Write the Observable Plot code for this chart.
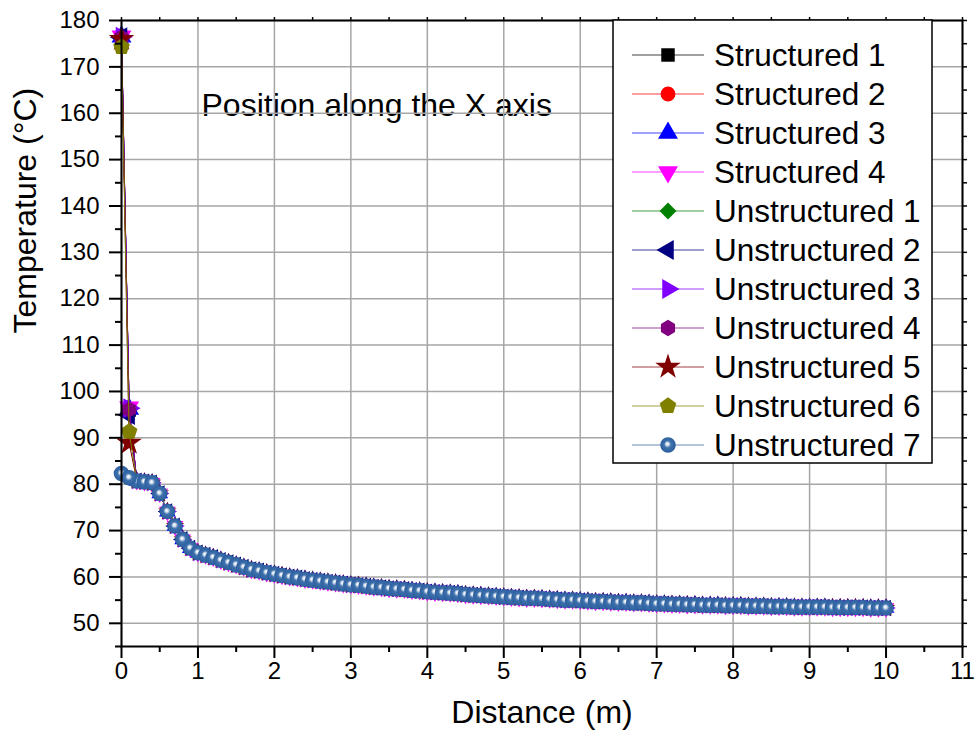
<!DOCTYPE html>
<html>
<head>
<meta charset="utf-8">
<script src="https://cdn.jsdelivr.net/npm/d3@7"></script>
<script src="https://cdn.jsdelivr.net/npm/@observablehq/plot@0.6"></script>
<style>
  html, body { margin: 0; padding: 0; background: #fff; }
  #chart { position: relative; width: 979px; height: 747px; }
</style>
</head>
<body>
<div id="chart"></div>
<script>
// ---------------- data ----------------
const seriesNames = [
  "Structured 1", "Structured 2", "Structured 3", "Structured 4",
  "Unstructured 1", "Unstructured 2", "Unstructured 3", "Unstructured 4",
  "Unstructured 5", "Unstructured 6", "Unstructured 7"
];
const seriesColors = [
  "#000000", "#ff0000", "#0000ff", "#ff00ff",
  "#008000", "#000080", "#8000ff", "#800080",
  "#800000", "#808000", "#3a6aa8"
];
const distance = [
  0.0, 0.1, 0.2, 0.3, 0.4, 0.5, 0.6, 0.7, 0.8, 0.9,
  1.0, 1.1, 1.2, 1.3, 1.4, 1.5, 1.6, 1.7, 1.8, 1.9,
  2.0, 2.1, 2.2, 2.3, 2.4, 2.5, 2.6, 2.7, 2.8, 2.9,
  3.0, 3.1, 3.2, 3.3, 3.4, 3.5, 3.6, 3.7, 3.8, 3.9,
  4.0, 4.1, 4.2, 4.3, 4.4, 4.5, 4.6, 4.7, 4.8, 4.9,
  5.0, 5.1, 5.2, 5.3, 5.4, 5.5, 5.6, 5.7, 5.8, 5.9,
  6.0, 6.1, 6.2, 6.3, 6.4, 6.5, 6.6, 6.7, 6.8, 6.9,
  7.0, 7.1, 7.2, 7.3, 7.4, 7.5, 7.6, 7.7, 7.8, 7.9,
  8.0, 8.1, 8.2, 8.3, 8.4, 8.5, 8.6, 8.7, 8.8, 8.9,
  9.0, 9.1, 9.2, 9.3, 9.4, 9.5, 9.6, 9.7, 9.8, 9.9,
  10.0
];
// temperature at the inlet (x = 0) and at x = 0.1 m for each series
const inletTemp = [176.3, 176.3, 176.5, 176.6, 176.2, 176.4, 176.5, 176.3, 176.0, 174.3, 82.3];
const secondTemp = [96.0, 96.0, 96.2, 96.6, 96.0, 94.9, 96.4, 96.1, 88.9, 91.3, 81.4];
// common temperature profile from x = 0.2 m to x = 10 m (all meshes overlap)
const profileTemp = [
  80.7, 80.5, 80.3, 78.0, 74.1, 71.0, 68.1, 66.2,
  65.2, 64.7, 64.2, 63.6, 63.1, 62.6, 62.1, 61.6, 61.3, 60.9,
  60.6, 60.3, 60.0, 59.8, 59.5, 59.3, 59.1, 58.9, 58.7, 58.5,
  58.3, 58.2, 58.0, 57.8, 57.7, 57.5, 57.4, 57.3, 57.1, 57.0,
  56.8, 56.7, 56.6, 56.5, 56.4, 56.2, 56.1, 56.0, 55.9, 55.8,
  55.7, 55.6, 55.5, 55.4, 55.4, 55.3, 55.2, 55.1, 55.0, 55.0,
  54.9, 54.8, 54.7, 54.7, 54.6, 54.5, 54.5, 54.4, 54.4, 54.3,
  54.2, 54.2, 54.1, 54.1, 54.0, 54.0, 53.9, 53.9, 53.9, 53.8,
  53.8, 53.8, 53.7, 53.7, 53.7, 53.6, 53.6, 53.6, 53.5, 53.5,
  53.5, 53.5, 53.5, 53.4, 53.4, 53.4, 53.4, 53.4, 53.3, 53.3,
  53.3
];
const xMajorTicks = [0, 1, 2, 3, 4, 5, 6, 7, 8, 9, 10, 11];
const xMinorTicks = [0.5, 1.5, 2.5, 3.5, 4.5, 5.5, 6.5, 7.5, 8.5, 9.5, 10.5];
const yMajorTicks = [50, 60, 70, 80, 90, 100, 110, 120, 130, 140, 150, 160, 170, 180];
const yMinorTicks = [45, 55, 65, 75, 85, 95, 105, 115, 125, 135, 145, 155, 165, 175];
const annotationText = "Position along the X axis";
const xTitle = "Distance (m)";
const yTitle = "Temperature (°C)";

// ---------------- symbols ----------------
const S3 = Math.sqrt(3);
const triDown = {draw(c, size) { const y = -Math.sqrt(size / (S3 * 3)); c.moveTo(0, -2 * y); c.lineTo(-S3 * y, y); c.lineTo(S3 * y, y); c.closePath(); }};
const triLeft = {draw(c, size) { const y = -Math.sqrt(size / (S3 * 3)); c.moveTo(2 * y, 0); c.lineTo(-y, -S3 * y); c.lineTo(-y, S3 * y); c.closePath(); }};
const triRight = {draw(c, size) { const y = -Math.sqrt(size / (S3 * 3)); c.moveTo(-2 * y, 0); c.lineTo(y, S3 * y); c.lineTo(y, -S3 * y); c.closePath(); }};
function polygon(n) {
  return {draw(c, size) {
    const r = Math.sqrt(size / (n / 2 * Math.sin(2 * Math.PI / n)));
    for (let k = 0; k < n; ++k) {
      const a = -Math.PI / 2 + k * 2 * Math.PI / n;
      const px = r * Math.cos(a), py = r * Math.sin(a);
      if (k === 0) c.moveTo(px, py); else c.lineTo(px, py);
    }
    c.closePath();
  }};
}
const seriesSymbols = [
  d3.symbolSquare, d3.symbolCircle, d3.symbolTriangle, triDown,
  d3.symbolDiamond2, triLeft, triRight, polygon(6),
  d3.symbolStar, polygon(5), d3.symbolCircle
];
// marker radius in the legend / head points, and on the curve (where they sit under the spheres)
const legendR = [7.6, 7.4, 7.4, 7.4, 7.6, 7.4, 7.4, 7.4, 8, 7.6, 7.8];
const curveR = [6.2, 6.4, 6.2, 6.2, 6.6, 6.2, 6.2, 6.8, 5.8, 6.6, 7.8];

// ---------------- table ----------------
function seriesRows(i) {
  const temps = [inletTemp[i], secondTemp[i], ...profileTemp];
  return distance.map((x, j) => ({series: seriesNames[i], x, t: temps[j], head: j < 2}));
}

const fontFamily = "Arial, 'Liberation Sans', sans-serif";
const marks = [];
marks.push(Plot.text([annotationText], {frameAnchor: "top-left", dx: 80, dy: 73, textAnchor: "start", fontSize: 32, fill: "black"}));
marks.push(Plot.gridX(xMajorTicks, {stroke: "#a6a6a6", strokeOpacity: 1, strokeWidth: 1.5}));
marks.push(Plot.gridY(yMajorTicks, {stroke: "#a6a6a6", strokeOpacity: 1, strokeWidth: 1.5}));
seriesNames.forEach((name, i) => {
  const rows = seriesRows(i);
  const fill = i === 10 ? "url(#ball)" : seriesColors[i];
  marks.push(Plot.line(rows, {x: "x", y: "t", stroke: seriesColors[i], strokeWidth: 1}));
  marks.push(Plot.dot(rows.filter(d => !d.head), {x: "x", y: "t", symbol: seriesSymbols[i], r: curveR[i], fill, stroke: "none"}));
  marks.push(Plot.dot(rows.filter(d => d.head), {x: "x", y: "t", symbol: seriesSymbols[i], r: i === 10 ? curveR[i] : legendR[i], fill, stroke: "none"}));
});
marks.push(Plot.frame({stroke: "black", strokeWidth: 2}));
marks.push(Plot.axisX(xMajorTicks, {anchor: "bottom", tickSize: 12, tickPadding: 3, strokeWidth: 2, fontSize: 24, label: null, tickFormat: d => String(d)}));
marks.push(Plot.axisX(xMinorTicks, {anchor: "bottom", tickSize: 6, strokeWidth: 2, label: null, tickFormat: () => ""}));
marks.push(Plot.axisX([...xMajorTicks, ...xMinorTicks], {anchor: "top", tickSize: 4, strokeWidth: 1.5, label: null, tickFormat: () => ""}));
marks.push(Plot.axisY(yMajorTicks, {anchor: "left", tickSize: 12, tickPadding: 10, strokeWidth: 2, fontSize: 24, label: null, tickFormat: d => String(d)}));
marks.push(Plot.axisY(yMinorTicks, {anchor: "left", tickSize: 6, strokeWidth: 2, label: null, tickFormat: () => ""}));
marks.push(Plot.axisY([...yMajorTicks, ...yMinorTicks], {anchor: "right", tickSize: 4, strokeWidth: 1.5, label: null, tickFormat: () => ""}));
marks.push(Plot.text([xTitle], {frameAnchor: "bottom", dy: 76, fontSize: 32, fill: "black"}));
marks.push(Plot.text([yTitle], {frameAnchor: "left", dx: -96, rotate: -90, fontSize: 32, fill: "black"}));

const svg = Plot.plot({
  width: 979,
  height: 747,
  marginLeft: 121,
  marginRight: 17,
  marginTop: 20,
  marginBottom: 101,
  x: {domain: [0, 11]},
  y: {domain: [45, 180]},
  style: {fontFamily, color: "black", background: "white", overflow: "visible"},
  marks
});
document.getElementById("chart").appendChild(svg);

// gradient for the shaded spheres of "Unstructured 7"
const root = d3.select(svg);
const defs = root.insert("defs", ":first-child");
const grad = defs.append("radialGradient").attr("id", "ball")
  .attr("cx", "50%").attr("cy", "50%").attr("r", "50%").attr("fx", "45%").attr("fy", "42%");
grad.append("stop").attr("offset", "0%").attr("stop-color", "#ffffff");
grad.append("stop").attr("offset", "18%").attr("stop-color", "#dbe5f1");
grad.append("stop").attr("offset", "45%").attr("stop-color", "#3f71ad");
grad.append("stop").attr("offset", "100%").attr("stop-color", "#2b5e9d");

// ---------------- legend (inside the plot frame, top-right) ----------------
const lg = root.append("g").attr("class", "legend").attr("text-anchor", "start");
lg.append("rect").attr("x", 613).attr("y", 20).attr("width", 319).attr("height", 443)
  .attr("fill", "white").attr("stroke", "black").attr("stroke-width", 1.5);
seriesNames.forEach((name, i) => {
  const cy = 55 + i * 39.0;
  const row = lg.append("g").attr("transform", `translate(0,${cy})`);
  row.append("line").attr("x1", 632).attr("x2", 704).attr("y1", 0).attr("y2", 0)
    .attr("stroke", seriesColors[i]).attr("stroke-width", 1.2).attr("stroke-opacity", 0.75);
  row.append("path")
    .attr("transform", "translate(668,0)")
    .attr("d", d3.symbol().type(seriesSymbols[i]).size(Math.PI * legendR[i] * legendR[i])())
    .attr("fill", i === 10 ? "url(#ball)" : seriesColors[i]);
  row.append("text").attr("x", 714).attr("y", 0).attr("dy", "0.35em")
    .attr("text-anchor", "start")
    .attr("font-size", 31.5).attr("font-family", fontFamily).attr("fill", "black")
    .text(name);
});
</script>
</body>
</html>
